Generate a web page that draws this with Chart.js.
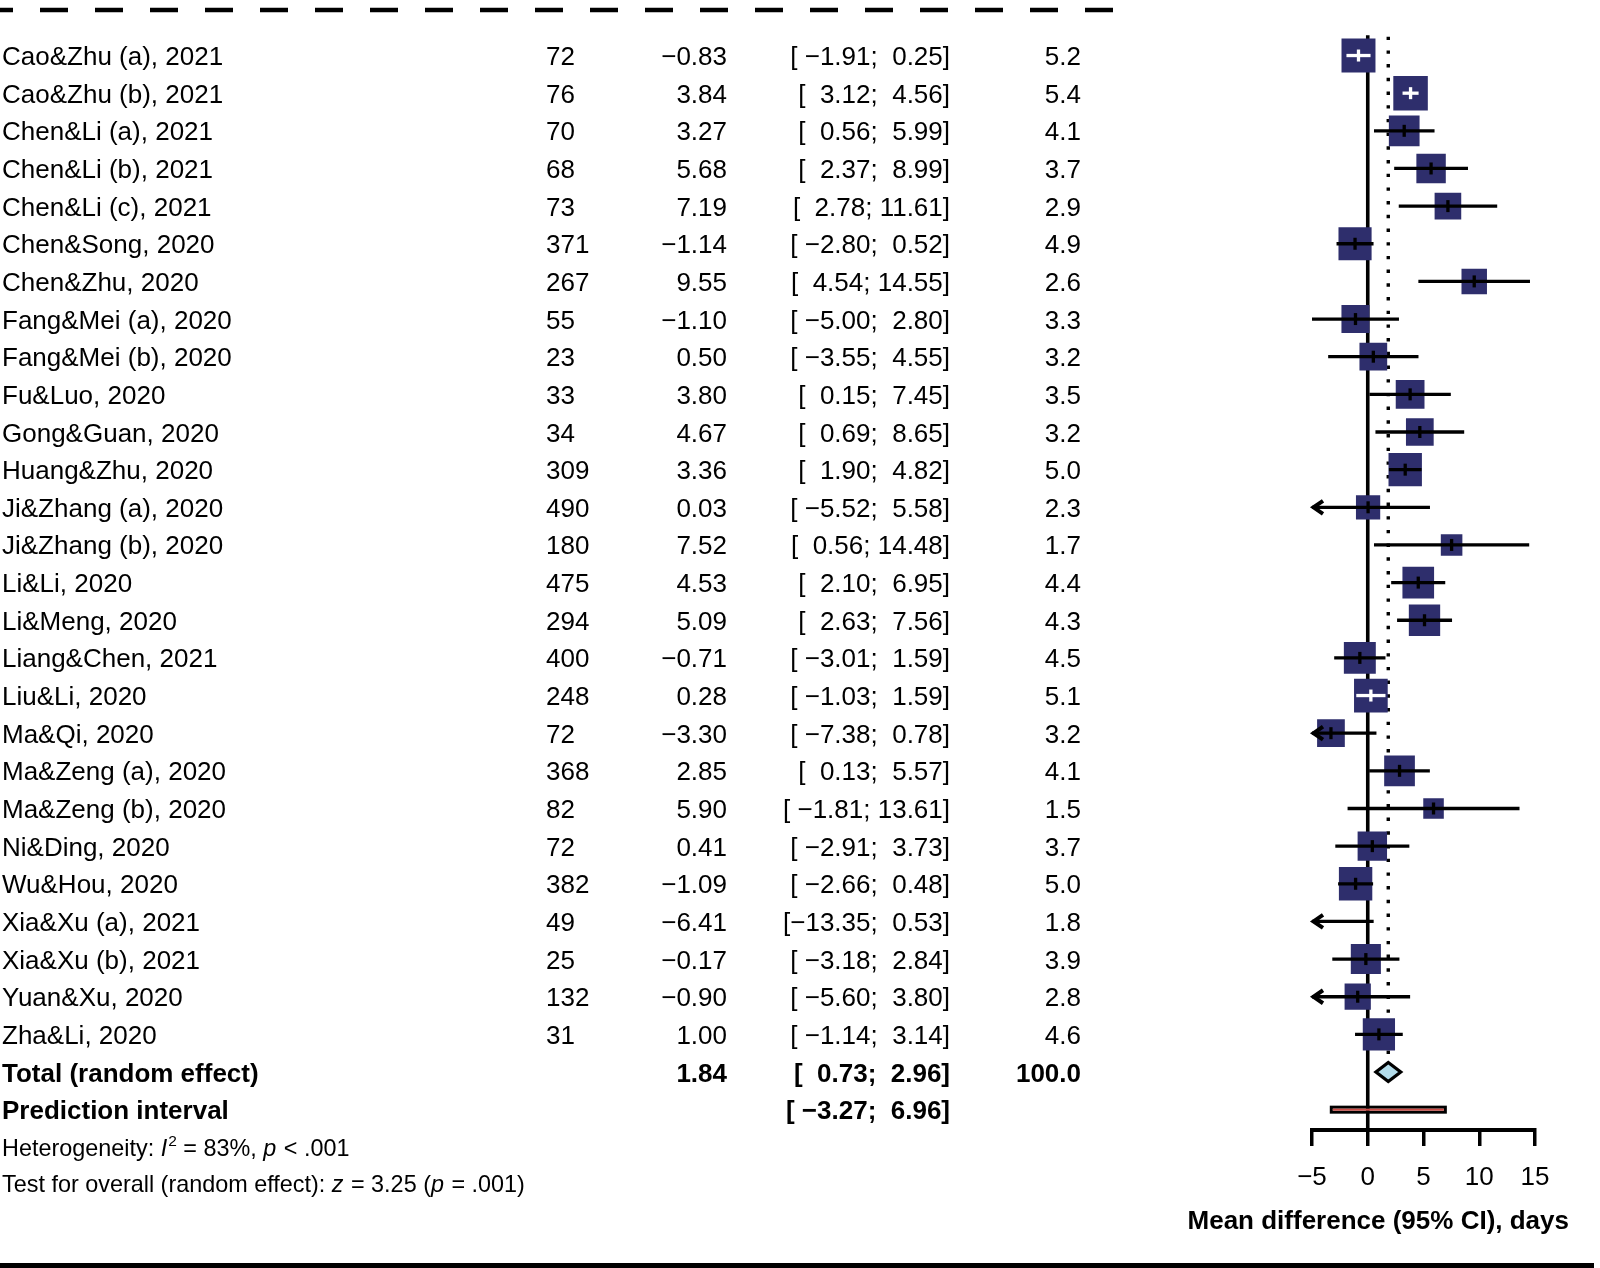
<!DOCTYPE html>
<html>
<head>
<meta charset="utf-8">
<script src="https://cdn.jsdelivr.net/npm/chart.js@4.4.1/dist/chart.umd.min.js"></script>
<style>
  html, body { margin: 0; padding: 0; background: #fff; }
  #wrap { position: relative; width: 1600px; height: 1268px; }
</style>
</head>
<body>
<div id="wrap"><canvas id="forest"></canvas></div>
<script>
// study rows
const studies = [
  'Cao&Zhu (a), 2021', 'Cao&Zhu (b), 2021', 'Chen&Li (a), 2021', 'Chen&Li (b), 2021',
  'Chen&Li (c), 2021', 'Chen&Song, 2020', 'Chen&Zhu, 2020', 'Fang&Mei (a), 2020',
  'Fang&Mei (b), 2020', 'Fu&Luo, 2020', 'Gong&Guan, 2020', 'Huang&Zhu, 2020',
  'Ji&Zhang (a), 2020', 'Ji&Zhang (b), 2020', 'Li&Li, 2020', 'Li&Meng, 2020',
  'Liang&Chen, 2021', 'Liu&Li, 2020', 'Ma&Qi, 2020', 'Ma&Zeng (a), 2020',
  'Ma&Zeng (b), 2020', 'Ni&Ding, 2020', 'Wu&Hou, 2020', 'Xia&Xu (a), 2021',
  'Xia&Xu (b), 2021', 'Yuan&Xu, 2020', 'Zha&Li, 2020'
];
const sampleSize = [72, 76, 70, 68, 73, 371, 267, 55, 23, 33, 34, 309, 490, 180, 475, 294, 400, 248, 72, 368, 82, 72, 382, 49, 25, 132, 31];
const meanDiff = [-0.83, 3.84, 3.27, 5.68, 7.19, -1.14, 9.55, -1.10, 0.50, 3.80, 4.67, 3.36, 0.03, 7.52, 4.53, 5.09, -0.71, 0.28, -3.30, 2.85, 5.90, 0.41, -1.09, -6.41, -0.17, -0.90, 1.00];
const ciLower = [-1.91, 3.12, 0.56, 2.37, 2.78, -2.80, 4.54, -5.00, -3.55, 0.15, 0.69, 1.90, -5.52, 0.56, 2.10, 2.63, -3.01, -1.03, -7.38, 0.13, -1.81, -2.91, -2.66, -13.35, -3.18, -5.60, -1.14];
const ciUpper = [0.25, 4.56, 5.99, 8.99, 11.61, 0.52, 14.55, 2.80, 4.55, 7.45, 8.65, 4.82, 5.58, 14.48, 6.95, 7.56, 1.59, 1.59, 0.78, 5.57, 13.61, 3.73, 0.48, 0.53, 2.84, 3.80, 3.14];
const weights = [5.2, 5.4, 4.1, 3.7, 2.9, 4.9, 2.6, 3.3, 3.2, 3.5, 3.2, 5.0, 2.3, 1.7, 4.4, 4.3, 4.5, 5.1, 3.2, 4.1, 1.5, 3.7, 5.0, 1.8, 3.9, 2.8, 4.6];

// pooled estimate [estimate, lower, upper] and prediction interval [lower, upper]
const pooled = [1.84, 0.73, 2.96];
const pooledWeight = 100.0;
const predInterval = [-3.27, 6.96];
const xTicks = [-5, 0, 5, 10, 15];

const FONT = '"Liberation Sans", Arial, Helvetica, sans-serif';
const SQUARE = '#2e2e6c';
const X_MIN = -5, X_MAX = 15;

function fmt(v, d) {
  return v.toFixed(d).replace('-', '\u2212');
}
function ciText(lo, hi) {
  return '[' + fmt(lo, 2).padStart(6, ' ') + '; ' + fmt(hi, 2).padStart(5, ' ') + ']';
}
function squareSide(w) {
  return 5 + 12.7 * Math.sqrt(w);
}

const forestPlugin = {
  id: 'forest',
  beforeDatasetsDraw(chart) {
    const { ctx, chartArea } = chart;
    const xs = chart.scales.x, ys = chart.scales.y;
    ctx.save();
    // line of no effect
    ctx.strokeStyle = '#000';
    ctx.lineWidth = 3.6;
    ctx.beginPath();
    ctx.moveTo(xs.getPixelForValue(0), chartArea.top - 1.5);
    ctx.lineTo(xs.getPixelForValue(0), chartArea.bottom);
    ctx.stroke();
    // dotted line at pooled estimate
    ctx.setLineDash([3.4, 10.3]);
    ctx.lineWidth = 3.4;
    ctx.beginPath();
    ctx.moveTo(xs.getPixelForValue(pooled[0]), chartArea.top);
    ctx.lineTo(xs.getPixelForValue(pooled[0]), ys.getPixelForValue(studies.length) - 10);
    ctx.stroke();
    ctx.restore();
  },
  afterDatasetsDraw(chart) {
    const { ctx } = chart;
    const xs = chart.scales.x, ys = chart.scales.y;
    ctx.save();
    ctx.lineCap = 'butt';
    studies.forEach((s, i) => {
      const y = ys.getPixelForValue(i);
      const xm = xs.getPixelForValue(meanDiff[i]);
      const lo = Math.max(ciLower[i], X_MIN), hi = Math.min(ciUpper[i], X_MAX);
      const xl = xs.getPixelForValue(lo), xh = xs.getPixelForValue(hi);
      const half = squareSide(weights[i]) / 2;
      const inside = xl > xm - half + 1 && xh < xm + half - 1;
      const col = inside ? '#fff' : '#000';
      ctx.strokeStyle = col;
      ctx.lineWidth = 3.3;
      ctx.beginPath();
      ctx.moveTo(xl, y);
      ctx.lineTo(xh, y);
      ctx.stroke();
      // estimate tick, only when the estimate is on the scale
      if (meanDiff[i] >= X_MIN && meanDiff[i] <= X_MAX) {
        ctx.beginPath();
        ctx.moveTo(xm, y - 6);
        ctx.lineTo(xm, y + 6);
        ctx.stroke();
      }
      if (ciLower[i] < X_MIN) {
        ctx.lineWidth = 4;
        ctx.lineJoin = 'miter';
        ctx.beginPath();
        ctx.moveTo(xl + 11, y - 6.5);
        ctx.lineTo(xl + 1.5, y);
        ctx.lineTo(xl + 11, y + 6.5);
        ctx.stroke();
      }
    });
    // pooled diamond
    const yd = ys.getPixelForValue(studies.length);
    ctx.beginPath();
    ctx.moveTo(xs.getPixelForValue(pooled[1]), yd);
    ctx.lineTo(xs.getPixelForValue(pooled[0]), yd - 9.5);
    ctx.lineTo(xs.getPixelForValue(pooled[2]), yd);
    ctx.lineTo(xs.getPixelForValue(pooled[0]), yd + 9.5);
    ctx.closePath();
    ctx.fillStyle = '#b3dcea';
    ctx.fill();
    ctx.lineWidth = 3.2;
    ctx.lineJoin = 'miter';
    ctx.strokeStyle = '#000';
    ctx.stroke();
    // prediction interval bar
    const yp = ys.getPixelForValue(studies.length + 1);
    const p1 = xs.getPixelForValue(predInterval[0]), p2 = xs.getPixelForValue(predInterval[1]);
    ctx.lineWidth = 3;
    ctx.strokeRect(p1, yp - 2.5, p2 - p1, 5);
    ctx.fillStyle = '#cc4b45';
    ctx.fillRect(p1 + 1.5, yp - 1, p2 - p1 - 3, 2);
    ctx.restore();
  },
  afterDraw(chart) {
    const { ctx } = chart;
    const ys = chart.scales.y;
    ctx.save();
    ctx.fillStyle = '#000';
    ctx.textBaseline = 'alphabetic';
    const base = v => ys.getPixelForValue(v) + 9.5;
    ctx.font = '26px ' + FONT;
    studies.forEach((s, i) => {
      const y = base(i);
      ctx.textAlign = 'left';
      ctx.fillText(s, 2, y);
      ctx.fillText(String(sampleSize[i]), 546, y);
      ctx.textAlign = 'right';
      ctx.fillText(fmt(meanDiff[i], 2), 727, y);
      ctx.fillText(ciText(ciLower[i], ciUpper[i]), 950, y);
      ctx.fillText(fmt(weights[i], 1), 1081, y);
    });
    // summary rows
    ctx.font = 'bold 26px ' + FONT;
    let y = base(studies.length);
    ctx.textAlign = 'left';
    ctx.fillText('Total (random effect)', 2, y);
    ctx.textAlign = 'right';
    ctx.fillText(fmt(pooled[0], 2), 727, y);
    ctx.fillText(ciText(pooled[1], pooled[2]), 950, y);
    ctx.fillText(fmt(pooledWeight, 1), 1081, y);
    y = base(studies.length + 1);
    ctx.textAlign = 'left';
    ctx.fillText('Prediction interval', 2, y);
    ctx.textAlign = 'right';
    ctx.fillText(ciText(predInterval[0], predInterval[1]), 950, y);

    // footnotes with italic parts
    const runs = (parts, x0, yb) => {
      let x = x0;
      ctx.textAlign = 'left';
      parts.forEach(p => {
        ctx.font = (p.it ? 'italic ' : '') + (p.sup ? '15.5px ' : '23.4px ') + FONT;
        ctx.fillText(p.t, x, yb - (p.sup ? 10.5 : 0));
        x += ctx.measureText(p.t).width + (p.it ? 1 : 0);
      });
    };
    runs([{ t: 'Heterogeneity: ' }, { t: 'I', it: true }, { t: '2', sup: true }, { t: ' = 83%, ' },
          { t: 'p', it: true }, { t: ' < .001' }], 2, 1156);
    runs([{ t: 'Test for overall (random effect): ' }, { t: 'z', it: true }, { t: ' = 3.25 (' },
          { t: 'p', it: true }, { t: ' = .001)' }], 2, 1192);

    // axis title
    ctx.font = 'bold 26px ' + FONT;
    ctx.textAlign = 'right';
    ctx.textBaseline = 'middle';
    ctx.fillText('Mean difference (95% CI), days', 1569, 1222);

    // dashed rule at top
    ctx.strokeStyle = '#000';
    ctx.lineWidth = 4.5;
    ctx.setLineDash([28, 27]);
    ctx.lineDashOffset = 15;
    ctx.beginPath();
    ctx.moveTo(0, 10);
    ctx.lineTo(1113, 10);
    ctx.stroke();
    // solid rule at bottom
    ctx.setLineDash([]);
    ctx.fillRect(0, 1263, 1594, 5);
    ctx.restore();
  }
};

new Chart(document.getElementById('forest'), {
  type: 'scatter',
  data: {
    datasets: [{
      label: 'Studies',
      data: meanDiff.map((v, i) => ({ x: v, y: i })),
      pointStyle: 'rect',
      pointRadius: c => squareSide(weights[c.dataIndex]) / 2 / Math.SQRT1_2,
      backgroundColor: SQUARE,
      borderWidth: 0
    }]
  },
  options: {
    responsive: true,
    maintainAspectRatio: false,
    animation: false,
    events: [],
    layout: { padding: { top: 36.7, left: 1312, right: 65, bottom: 0 } },
    plugins: { legend: { display: false }, tooltip: { enabled: false } },
    scales: {
      x: {
        type: 'linear',
        min: X_MIN,
        max: X_MAX,
        afterBuildTicks: s => { s.ticks = xTicks.map(v => ({ value: v })); },
        afterFit: s => { s.height = 138; },
        grid: { display: true, drawOnChartArea: false, drawTicks: true, tickLength: 16, lineWidth: 3.5, color: '#000' },
        border: { display: true, width: 4, color: '#000' },
        ticks: {
          color: '#000',
          padding: 16,
          font: { family: FONT, size: 26 },
          callback: v => fmt(v, 0)
        }
      },
      y: {
        type: 'linear',
        display: false,
        reverse: true,
        min: -0.5,
        max: 28.54
      }
    }
  },
  plugins: [forestPlugin]
});
</script>
</body>
</html>
